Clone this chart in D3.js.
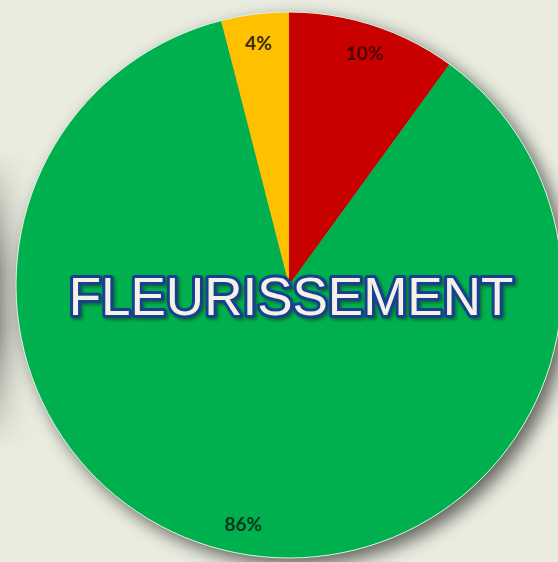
<!DOCTYPE html>
<html>
<head>
<meta charset="utf-8">
<script src="https://cdn.jsdelivr.net/npm/d3@7"></script>
<style>
  html, body { margin: 0; padding: 0; background: #e9ecdf; }
  svg { display: block; }
</style>
</head>
<body>
<div id="chart"></div>
<script>
// slice data, clockwise from 12 o'clock
const categories = ['Rouge', 'Vert', 'Jaune'];
const values = [10, 86, 4];
const labels = ['10%', '86%', '4%'];
const sliceColors = ['#c80000', '#00b050', '#ffc000'];
const labelColors = ['#520000', '#0a3a1a', '#3a2c00'];
const title = 'FLEURISSEMENT';

const width = 558;
const height = 562;
const cx = 289;
const cy = 285;
const radius = 273;

const svg = d3.select('#chart')
  .append('svg')
  .attr('width', width)
  .attr('height', height);

const defs = svg.append('defs');

// soft shadow behind the pie
const shadow = defs.append('filter')
  .attr('id', 'pieShadow')
  .attr('x', '-20%').attr('y', '-20%')
  .attr('width', '140%').attr('height', '140%');
shadow.append('feGaussianBlur').attr('in', 'SourceAlpha').attr('stdDeviation', 9);
shadow.append('feOffset').attr('dx', 7).attr('dy', 7).attr('result', 'off');
shadow.append('feComponentTransfer')
  .append('feFuncA').attr('type', 'linear').attr('slope', 0.6);
const merge = shadow.append('feMerge');
merge.append('feMergeNode');
merge.append('feMergeNode').attr('in', 'SourceGraphic');

// dark band at the left edge
const leftGrad = defs.append('linearGradient')
  .attr('id', 'leftShade')
  .attr('x1', 0).attr('x2', 1).attr('y1', 0).attr('y2', 0);
leftGrad.append('stop').attr('offset', '0%').attr('stop-color', '#8e8e86').attr('stop-opacity', 0.9);
leftGrad.append('stop').attr('offset', '100%').attr('stop-color', '#e9ecdf').attr('stop-opacity', 0);

const leftGradV = defs.append('linearGradient')
  .attr('id', 'leftShadeMask')
  .attr('x1', 0).attr('x2', 0).attr('y1', 0).attr('y2', 1);
leftGradV.append('stop').attr('offset', '0%').attr('stop-color', '#fff').attr('stop-opacity', 0);
leftGradV.append('stop').attr('offset', '40%').attr('stop-color', '#fff').attr('stop-opacity', 1);
leftGradV.append('stop').attr('offset', '60%').attr('stop-color', '#fff').attr('stop-opacity', 1);
leftGradV.append('stop').attr('offset', '100%').attr('stop-color', '#fff').attr('stop-opacity', 0);
defs.append('mask').attr('id', 'leftMask')
  .append('rect')
  .attr('x', 0).attr('y', 150).attr('width', 40).attr('height', 300)
  .attr('fill', 'url(#leftShadeMask)');

svg.append('rect')
  .attr('width', width).attr('height', height)
  .attr('fill', '#e9ecdf');

svg.append('rect')
  .attr('x', 0).attr('y', 150).attr('width', 40).attr('height', 300)
  .attr('fill', 'url(#leftShade)')
  .attr('mask', 'url(#leftMask)');

const pie = d3.pie().sort(null).value((d) => d);
const arcs = pie(values);

const arc = d3.arc().innerRadius(0).outerRadius(radius);
const labelArc = d3.arc().innerRadius(244).outerRadius(244);

const g = svg.append('g')
  .attr('transform', `translate(${cx},${cy})`);

g.append('g')
  .attr('filter', 'url(#pieShadow)')
  .selectAll('path')
  .data(arcs)
  .enter()
  .append('path')
  .attr('d', arc)
  .attr('fill', (d, i) => sliceColors[i]);

// thin light rim
g.append('circle')
  .attr('r', radius)
  .attr('fill', 'none')
  .attr('stroke', '#d9f2dc')
  .attr('stroke-width', 1);

g.selectAll('.slice-label')
  .data(arcs)
  .enter()
  .append('text')
  .attr('class', 'slice-label')
  .attr('transform', (d) => `translate(${labelArc.centroid(d)})`)
  .attr('text-anchor', 'middle')
  .attr('dy', '0.35em')
  .style('font-family', 'Lato, "Open Sans", sans-serif')
  .style('font-weight', 'bold')
  .style('font-size', '19px')
  .style('fill', (d, i) => labelColors[i])
  .text((d, i) => labels[i]);

// title over the pie
const titleShadow = defs.append('filter').attr('id', 'titleShadow');
titleShadow.append('feDropShadow')
  .attr('dx', 2).attr('dy', 2).attr('stdDeviation', 1.5)
  .attr('flood-color', '#0a3a1a').attr('flood-opacity', 0.6);

svg.append('text')
  .attr('x', 291)
  .attr('y', 315)
  .attr('text-anchor', 'middle')
  .attr('filter', 'url(#titleShadow)')
  .style('font-family', '"Liberation Sans", Arial, sans-serif')
  .style('font-size', '53px')
  .style('fill', '#f6f1e6')
  .style('stroke', '#143f90')
  .style('stroke-width', 6)
  .style('stroke-linejoin', 'round')
  .style('paint-order', 'stroke fill')
  .text(title);
</script>
</body>
</html>
